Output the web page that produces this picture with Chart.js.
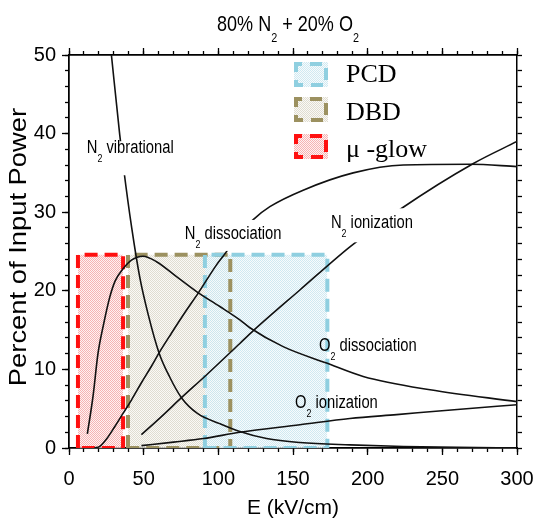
<!DOCTYPE html>
<html>
<head>
<meta charset="utf-8">
<script src="https://cdn.jsdelivr.net/npm/chart.js@4.4.1/dist/chart.umd.min.js"></script>
<style>
  html, body { margin: 0; padding: 0; background: #fff; }
</style>
</head>
<body>
<canvas id="grafico" width="537" height="522"></canvas>
<script>
// curvas (E em kV/cm, % da potencia)
const vibE = [28.4, 34, 36.7, 42, 47.5, 53, 60.3, 67.5, 75.3, 86, 101, 114.4, 132.3, 154.6, 188.1, 223.9, 260, 300];
const vibP = [50, 39.8, 35.4, 28.0, 21.6, 17.0, 12.1, 9.0, 6.4, 4.4, 3.1, 2.1, 1.2, 0.7, 0.4, 0.2, 0.08, 0];

const o2DisE = [12.3, 16.1, 19.4, 23, 27.3, 31, 36.2, 41.8, 49.6, 58.6, 72, 85.4, 101, 114.4, 121.1, 143.4, 172.5, 197, 241.8, 300];
const o2DisP = [1.8, 6.6, 12.0, 15.6, 19.2, 21.3, 22.8, 23.9, 24.4, 23.7, 21.8, 19.9, 18.0, 16.3, 15.3, 12.9, 10.8, 9.1, 7.4, 5.9];

const n2DisE = [17, 20.6, 25, 30.6, 36.2, 41.8, 48.5, 55.2, 60.3, 68.6, 77.5, 86.5, 98.8, 103.2, 113, 123, 134.5, 156.8, 190.3, 223.9, 268.6, 300];
const n2DisP = [0, 0.2, 1.1, 2.7, 4.4, 6.1, 8.3, 10.4, 12.1, 14.6, 17.2, 19.7, 23.3, 24.4, 26.9, 29.0, 30.7, 32.8, 35.0, 36.0, 36.1, 35.8];

const n2IonE = [48.5, 61.9, 75.3, 90.9, 114.4, 123.3, 154.6, 188.1, 222.8, 270.8, 300];
const n2IonP = [1.7, 4.0, 6.4, 9.1, 13.3, 14.9, 20.1, 25.6, 30.5, 36.2, 39.0];

const o2IonE = [48.5, 70, 90, 114.4, 154.6, 188.1, 219.4, 260, 300];
const o2IonP = [0.3, 0.75, 1.2, 2.0, 2.95, 3.75, 4.25, 4.9, 5.5];

// faixas de campo de cada descarga
const faixaPCD = [91, 173];
const faixaDBD = [39.5, 108];
const faixaGlow = [6, 36.2];
const topoFaixa = 24.6;

const FAM = "'Liberation Sans', Arial, sans-serif";

const pontos = (xs, ys) => xs.map((x, i) => ({ x: x, y: ys[i] }));
const retangulo = (f, topo) => [
  { x: f[0], y: 0 }, { x: f[0], y: topo }, { x: f[1], y: topo }, { x: f[1], y: 0 }, { x: f[0], y: 0 }
];

function padrao(corPonto, corFundo) {
  const c = document.createElement('canvas');
  c.width = 2; c.height = 2;
  const g = c.getContext('2d');
  g.fillStyle = corFundo; g.fillRect(0, 0, 2, 2);
  g.fillStyle = corPonto;
  g.fillRect(0, 0, 1, 1);
  g.fillRect(1, 1, 1, 1);
  return g.createPattern(c, 'repeat');
}

const estilos = {
  pcd: { borda: '#8fcfe0', fundo: padrao('rgba(195,227,238,0.75)', 'rgba(244,250,252,0.7)') },
  dbd: { borda: '#9c9160', fundo: padrao('rgba(212,208,192,0.7)', 'rgba(248,247,242,0.7)') },
  glow: { borda: '#ff1010', fundo: padrao('rgba(242,165,165,0.8)', 'rgba(255,236,236,0.7)') }
};

function curva(xs, ys) {
  return {
    data: pontos(xs, ys),
    borderColor: '#111',
    borderWidth: 1.6,
    pointRadius: 0,
    cubicInterpolationMode: 'monotone',
    fill: false,
    order: 0
  };
}

// contorno tracejado da faixa
function caixaBorda(f, est, ordem) {
  return {
    data: retangulo(f, topoFaixa),
    borderColor: est.borda,
    borderWidth: 4,
    borderDash: [13, 7],
    pointRadius: 0,
    tension: 0,
    fill: false,
    order: ordem
  };
}

// preenchimento pontilhado da faixa
function caixaFundo(f, est, ordem) {
  return {
    data: [{ x: f[0], y: topoFaixa }, { x: f[1], y: topoFaixa }],
    borderWidth: 0,
    borderColor: 'rgba(0,0,0,0)',
    backgroundColor: est.fundo,
    pointRadius: 0,
    tension: 0,
    fill: 'origin',
    order: ordem
  };
}

// texto com subscrito e compressao horizontal
function larguraPartes(ctx, partes, tam) {
  let w = 0;
  for (const [t, sub] of partes) {
    ctx.font = (sub ? tam * 0.6 : tam) + 'px ' + FAM;
    w += ctx.measureText(t).width;
  }
  return w;
}
function desenhaPartes(ctx, partes, x, y, tam, escala, centro) {
  ctx.save();
  ctx.translate(x, y);
  ctx.scale(escala, 1);
  ctx.textAlign = 'left';
  ctx.textBaseline = 'alphabetic';
  ctx.fillStyle = '#000';
  let cx = centro ? -larguraPartes(ctx, partes, tam) / 2 : 0;
  for (const [t, sub] of partes) {
    ctx.font = (sub ? tam * 0.6 : tam) + 'px ' + FAM;
    ctx.fillText(t, cx, sub ? tam * 0.5 : 0);
    cx += ctx.measureText(t).width;
  }
  ctx.restore();
}

const rotulos = [
  { partes: [['N'], ['2', 1], [' vibrational']], x: 11.9, y: 37.5, apaga: [12, 22] },
  { partes: [['N'], ['2', 1], [' dissociation']], x: 77.5, y: 26.6, apaga: [19, 12] },
  { partes: [['N'], ['2', 1], [' ionization']], x: 175.4, y: 27.95, apaga: [20, 14] },
  { partes: [['O'], ['2', 1], [' dissociation']], x: 167.4, y: 12.4 },
  { partes: [['O'], ['2', 1], [' ionization']], x: 151.3, y: 5.1 }
];

const textos = {
  id: 'textos',
  afterDatasetsDraw(chart) {
    const ctx = chart.ctx;
    const sx = chart.scales.x, sy = chart.scales.y;
    rotulos.forEach(r => {
      const px = sx.getPixelForValue(r.x), py = sy.getPixelForValue(r.y);
      const w = larguraPartes(ctx, r.partes, 18) * 0.82;
      if (r.apaga) {
        ctx.fillStyle = '#fff';
        ctx.fillRect(px - 2, py - r.apaga[0], w + 4, r.apaga[0] + r.apaga[1]);
      }
      desenhaPartes(ctx, r.partes, px, py, 18, 0.82, false);
    });

    // legenda
    const itens = [['PCD', estilos.pcd, 62, 82], ['DBD', estilos.dbd, 97, 120], ['\u03bc -glow', estilos.glow, 134, 157]];
    itens.forEach(([nome, est, topo, base]) => {
      ctx.save();
      ctx.fillStyle = est.fundo;
      ctx.fillRect(294, topo, 34, 25);
      ctx.strokeStyle = est.borda;
      ctx.lineWidth = 4;
      ctx.setLineDash([12, 8]);
      ctx.lineDashOffset = 6;
      ctx.strokeRect(296, topo + 2, 30, 21);
      ctx.restore();
      ctx.fillStyle = '#000';
      ctx.font = "26px 'Liberation Serif', 'Times New Roman', serif";
      ctx.textAlign = 'left';
      ctx.textBaseline = 'alphabetic';
      ctx.fillText(nome, 346, base);
    });
  },
  afterDraw(chart) {
    const ctx = chart.ctx;
    const area = chart.chartArea;
    // titulo
    desenhaPartes(ctx, [['80% N'], ['2', 1], [' + 20% O'], ['2', 1]], 288, 31, 22, 0.82, true);
    // eixo x
    ctx.fillStyle = '#000';
    ctx.font = '21px ' + FAM;
    ctx.textAlign = 'center';
    ctx.textBaseline = 'alphabetic';
    ctx.fillText('E (kV/cm)', (area.left + area.right) / 2, 514);
    // eixo y
    ctx.save();
    ctx.translate(26, 247);
    ctx.rotate(-Math.PI / 2);
    ctx.scale(1.14, 1);
    ctx.font = '24px ' + FAM;
    ctx.textAlign = 'center';
    ctx.fillText('Percent of Input Power', 0, 0);
    ctx.restore();
  }
};

const fonteTicks = { family: FAM, size: 20 };
const borda = { color: '#000', width: 1.5 };
const gridFora = (tam) => ({ drawOnChartArea: false, drawTicks: true, tickLength: tam, tickWidth: 1.3, tickColor: '#000' });
// tamanho fixo do eixo, sem folga extra para o ultimo rotulo
const fixaAltura = (h) => (s) => { s.height = h; s.paddingLeft = 0; s.paddingRight = 0; };
const fixaLargura = (w) => (s) => { s.width = w; s.paddingTop = 0; s.paddingBottom = 0; };

new Chart(document.getElementById('grafico'), {
  type: 'line',
  data: {
    datasets: [
      curva(vibE, vibP),
      curva(o2DisE, o2DisP),
      curva(n2DisE, n2DisP),
      curva(n2IonE, n2IonP),
      curva(o2IonE, o2IonP),
      caixaBorda(faixaPCD, estilos.pcd, 5),
      caixaBorda(faixaDBD, estilos.dbd, 6),
      caixaBorda(faixaGlow, estilos.glow, 7),
      caixaFundo(faixaPCD, estilos.pcd, 11),
      caixaFundo(faixaDBD, estilos.dbd, 12),
      caixaFundo(faixaGlow, estilos.glow, 13)
    ]
  },
  options: {
    responsive: false,
    animation: false,
    events: [],
    layout: { padding: 0 },
    plugins: { legend: { display: false }, tooltip: { enabled: false } },
    scales: {
      xMenor: {
        type: 'linear', position: 'bottom', min: 0, max: 300, weight: 0,
        ticks: { stepSize: 10, display: false },
        grid: gridFora(4), border: borda,
        afterFit: fixaAltura(0)
      },
      x: {
        type: 'linear', position: 'bottom', min: 0, max: 300, weight: 1,
        ticks: { stepSize: 50, autoSkip: false, maxRotation: 0, padding: 12, color: '#000', font: fonteTicks },
        grid: gridFora(7), border: borda,
        afterFit: fixaAltura(74)
      },
      xTopoMaior: {
        type: 'linear', position: 'top', min: 0, max: 300, weight: 0,
        ticks: { stepSize: 50, display: false },
        grid: gridFora(7), border: borda,
        afterFit: fixaAltura(0)
      },
      xTopo: {
        type: 'linear', position: 'top', min: 0, max: 300, weight: 1,
        ticks: { stepSize: 10, display: false },
        grid: gridFora(4), border: borda,
        afterFit: fixaAltura(55)
      },
      yMenor: {
        type: 'linear', position: 'left', min: 0, max: 50, weight: 0,
        ticks: { stepSize: 2, display: false },
        grid: gridFora(4), border: borda,
        afterFit: fixaLargura(0)
      },
      y: {
        type: 'linear', position: 'left', min: 0, max: 50, weight: 1,
        ticks: { stepSize: 10, autoSkip: false, padding: 6, color: '#000', font: fonteTicks },
        grid: gridFora(7), border: borda,
        afterFit: fixaLargura(69)
      },
      yDir: {
        type: 'linear', position: 'right', min: 0, max: 50,
        ticks: { stepSize: 2, display: false },
        grid: gridFora(5), border: borda,
        afterFit: fixaLargura(20)
      }
    }
  },
  plugins: [textos]
});
</script>
</body>
</html>
